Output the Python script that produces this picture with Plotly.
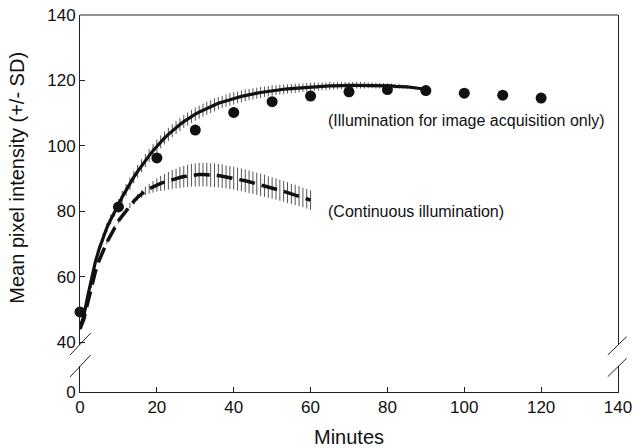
import plotly.graph_objects as go

# ---------------- data ----------------
minutes_acq = list(range(0, 91))
intensity_acq = [
    44.5, 48.0, 54.0, 59.5, 64.5, 68.5, 72.0, 75.0, 77.5, 80.0,
    82.0, 84.4, 86.5, 88.4, 90.4, 92.2, 93.9, 95.5, 97.0, 98.5,
    99.9, 101.2, 102.4, 103.5, 104.6, 105.6, 106.5, 107.4, 108.2, 109.0,
    109.7, 110.3, 110.9, 111.5, 112.0, 112.5, 113.0, 113.4, 113.8, 114.2,
    114.5, 114.8, 115.1, 115.4, 115.7, 115.9, 116.1, 116.3, 116.5, 116.7,
    116.9, 117.0, 117.2, 117.3, 117.4, 117.5, 117.6, 117.7, 117.8, 117.9,
    118.0, 118.1, 118.1, 118.2, 118.2, 118.3, 118.3, 118.4, 118.4, 118.4,
    118.5, 118.5, 118.5, 118.5, 118.5, 118.5, 118.5, 118.4, 118.4, 118.4,
    118.3, 118.3, 118.2, 118.2, 118.1, 118.0, 117.9, 117.8, 117.6, 117.5,
    117.3,
]
sd_acq = [
    0.4, 0.6, 0.8, 0.9, 1.0, 1.2, 1.3, 1.4, 1.5, 1.6,
    1.7, 1.8, 1.8, 1.9, 1.9, 2.0, 2.0, 2.0, 2.0, 2.0,
    2.0, 2.0, 2.0, 2.0, 2.0, 2.0, 2.0, 2.0, 2.0, 2.0,
    2.0, 2.0, 2.0, 2.0, 2.0, 2.0, 1.9, 1.9, 1.9, 1.9,
    1.9, 1.8, 1.8, 1.8, 1.7, 1.7, 1.7, 1.7, 1.6, 1.6,
    1.6, 1.5, 1.5, 1.5, 1.4, 1.4, 1.4, 1.4, 1.3, 1.3,
    1.3, 1.3, 1.2, 1.2, 1.2, 1.2, 1.1, 1.1, 1.1, 1.1,
    1.1, 1.0, 1.0, 1.0, 1.0, 0.9, 0.9, 0.9, 0.9, 0.8,
    0.8, 0.8, 0.7, 0.7, 0.6, 0.6, 0.5, 0.5, 0.4, 0.4,
    0.3,
]

minutes_cont = list(range(0, 61))
intensity_cont = [
    44.0, 47.0, 52.0, 57.0, 61.5, 65.0, 68.0, 70.5, 72.7, 75.0,
    77.0, 78.6, 80.2, 81.7, 83.0, 84.3, 85.3, 86.2, 86.9, 87.5,
    88.0, 88.5, 88.9, 89.3, 89.7, 90.0, 90.3, 90.6, 90.8, 91.0,
    91.1, 91.2, 91.2, 91.2, 91.1, 91.0, 90.9, 90.7, 90.5, 90.3,
    90.1, 89.8, 89.6, 89.3, 89.0, 88.7, 88.4, 88.1, 87.8, 87.4,
    87.1, 86.8, 86.4, 86.1, 85.7, 85.3, 85.0, 84.6, 84.2, 83.8,
    83.4,
]
sd_cont = [
    0.3, 0.3, 0.4, 0.4, 0.5, 0.5, 0.5, 0.6, 0.6, 0.6,
    0.7, 0.7, 0.8, 0.8, 0.9, 1.0, 1.2, 1.3, 1.5, 1.8,
    2.0, 2.3, 2.5, 2.7, 2.9, 3.0, 3.2, 3.3, 3.4, 3.5,
    3.5, 3.6, 3.6, 3.6, 3.6, 3.6, 3.6, 3.6, 3.5, 3.5,
    3.5, 3.5, 3.5, 3.5, 3.5, 3.4, 3.4, 3.4, 3.4, 3.3,
    3.3, 3.3, 3.2, 3.2, 3.2, 3.1, 3.1, 3.1, 3.0, 3.0,
    3.0,
]

minutes_dots = [0, 10, 20, 30, 40, 50, 60, 70, 80, 90, 100, 110, 120]
intensity_dots = [49.2, 81.3, 96.3, 104.8, 110.2, 113.5, 115.2, 116.5, 117.2, 116.9, 116.1, 115.5, 114.6]

x_ticks = [0, 20, 40, 60, 80, 100, 120, 140]
y_ticks_main = [40, 60, 80, 100, 120, 140]
y_ticks_stub = [0]

label_acq = "(Illumination for image acquisition only)"
label_cont = "(Continuous illumination)"

# ---------------- figure ----------------
FONT = "Arial, Liberation Sans, Helvetica, sans-serif"
AXC = "#222222"
ERRC = "#555555"

fig = go.Figure()

# error bars (drawn first, under the lines)
fig.add_trace(go.Scatter(
    x=minutes_acq, y=intensity_acq, mode="markers",
    marker=dict(size=0.1, color="rgba(0,0,0,0)"),
    error_y=dict(type="data", array=sd_acq, color=ERRC, thickness=1, width=0),
    showlegend=False, hoverinfo="skip", cliponaxis=False,
))
fig.add_trace(go.Scatter(
    x=minutes_cont, y=intensity_cont, mode="markers",
    marker=dict(size=0.1, color="rgba(0,0,0,0)"),
    error_y=dict(type="data", array=sd_cont, color=ERRC, thickness=1, width=0),
    showlegend=False, hoverinfo="skip", cliponaxis=False,
))
# mean lines
fig.add_trace(go.Scatter(
    x=minutes_acq, y=intensity_acq, mode="lines",
    line=dict(color="#111111", width=3.2),
    showlegend=False, cliponaxis=False,
))
fig.add_trace(go.Scatter(
    x=minutes_cont, y=intensity_cont, mode="lines",
    line=dict(color="#111111", width=3.5, dash="16px,7px"),
    showlegend=False, cliponaxis=False,
))
# dots
fig.add_trace(go.Scatter(
    x=minutes_dots, y=intensity_dots, mode="markers",
    marker=dict(size=11, color="#111111"),
    showlegend=False, cliponaxis=False,
))
# empty trace to establish the lower (broken) axis stub
fig.add_trace(go.Scatter(x=[], y=[], yaxis="y2", showlegend=False, hoverinfo="skip"))

main_bottom = 0.1247
stub_top = 0.069

fig.update_layout(
    template="none",
    width=634, height=448,
    margin=dict(l=80, r=16, t=15, b=56, autoexpand=False),
    paper_bgcolor="white", plot_bgcolor="white",
    font=dict(family=FONT, color="#111111"),
    xaxis=dict(
        range=[0, 140], anchor="y2", tickvals=x_ticks, automargin=False,
        ticks="inside", ticklen=5, tickcolor=AXC,
        showline=True, linecolor=AXC, linewidth=1,
        showgrid=False, zeroline=False,
        tickfont=dict(size=17, family=FONT, color="#111111"),
    ),
    yaxis=dict(
        domain=[main_bottom, 1], range=[39.1, 140], anchor="x", automargin=False,
        tickvals=y_ticks_main, ticks="inside", ticklen=5, tickcolor=AXC,
        showline=True, linecolor=AXC, linewidth=1, mirror=True,
        showgrid=False, zeroline=False,
        tickfont=dict(size=17, family=FONT, color="#111111"),
    ),
    yaxis2=dict(
        domain=[0, stub_top], range=[0, 7.95], anchor="x", automargin=False,
        tickvals=y_ticks_stub, ticks="",
        showline=True, linecolor=AXC, linewidth=1, mirror=True,
        showgrid=False, zeroline=False,
        tickfont=dict(size=17, family=FONT, color="#111111"),
    ),
)

# top frame line and axis-break slashes (decorations in paper space)
line_style = dict(color=AXC, width=1)
fig.add_shape(type="line", xref="paper", yref="paper", x0=0, x1=1, y0=1, y1=1, line=line_style)
for (x0, y0, x1, y1) in [
    (-0.0186, 0.0981, 0.0199, 0.1565),
    (-0.0186, 0.0398, 0.0199, 0.0981),
    (0.981, 0.0981, 1.016, 0.1467),
    (0.981, 0.0406, 1.016, 0.0894),
]:
    fig.add_shape(type="line", xref="paper", yref="paper",
                  x0=x0, y0=y0, x1=x1, y1=y1, line=line_style)

# axis titles
fig.add_annotation(text="Minutes", xref="paper", yref="paper",
                   x=0.5, y=-0.119, yanchor="middle", xanchor="center",
                   showarrow=False, font=dict(size=20, family=FONT, color="#111111"))
fig.add_annotation(text="Mean pixel intensity (+/- SD)", xref="paper", yref="paper",
                   x=-0.116, y=(main_bottom + 1) / 2 + 0.005, xanchor="center", yanchor="middle",
                   textangle=-90, showarrow=False,
                   font=dict(size=20, family=FONT, color="#111111"))

# series labels
fig.add_annotation(text=label_acq, x=64.1, y=107.6, xref="x", yref="y",
                   xanchor="left", yanchor="middle", showarrow=False,
                   font=dict(size=16, family=FONT, color="#111111"))
fig.add_annotation(text=label_cont, x=63.9, y=79.8, xref="x", yref="y",
                   xanchor="left", yanchor="middle", showarrow=False,
                   font=dict(size=16, family=FONT, color="#111111"))

fig.write_html(
    "out.html",
    config={"displayModeBar": False},
    post_script="document.body.style.margin='0';document.body.style.overflow='hidden';",
)
